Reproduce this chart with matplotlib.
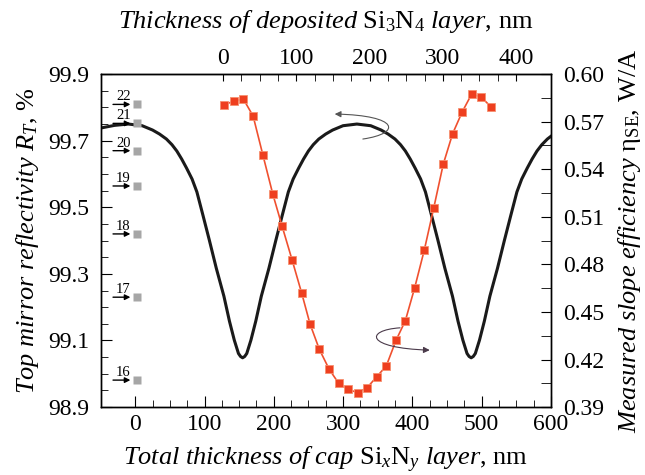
import matplotlib
matplotlib.use("Agg")
import matplotlib.pyplot as plt
from matplotlib.ticker import FixedLocator, MultipleLocator
from matplotlib.patches import FancyArrowPatch
from matplotlib.path import Path

plt.rcParams["font.family"] = ["Liberation Serif", "DejaVu Serif"]
plt.rcParams["mathtext.fontset"] = "custom"
plt.rcParams["mathtext.rm"] = "Liberation Serif"
plt.rcParams["mathtext.it"] = "Liberation Serif:italic"

# calculated top mirror reflectivity vs total cap thickness (nm, %)
thick_calc = [-50, -30, -10, 10, 25, 35, 45, 53, 60, 67, 74, 82, 89, 98, 107, 117,
              128, 136, 143, 149, 152, 155,
              158, 161, 167, 174, 182, 193, 203, 212, 221, 228, 236, 243, 250, 257,
              265, 275, 285, 300, 320,
              340, 355, 365, 375, 383, 390, 397, 404, 412, 419, 428, 437, 447, 458,
              466, 473, 479, 482, 485,
              488, 491, 497, 504, 512, 523, 533, 542, 551, 558, 566, 573, 580, 587,
              595, 600]
refl_calc = [99.738, 99.746, 99.750, 99.745, 99.732, 99.720, 99.705, 99.688, 99.669,
             99.645, 99.618, 99.585, 99.546, 99.474, 99.401, 99.317, 99.233, 99.158,
             99.101, 99.061, 99.052, 99.048,
             99.052, 99.061, 99.101, 99.158, 99.233, 99.317, 99.401, 99.474, 99.546,
             99.585, 99.618, 99.645, 99.669, 99.688, 99.705, 99.720, 99.732, 99.745,
             99.750,
             99.745, 99.732, 99.720, 99.705, 99.688, 99.669, 99.645, 99.618, 99.585,
             99.546, 99.474, 99.401, 99.317, 99.233, 99.158, 99.101, 99.061, 99.052,
             99.048,
             99.052, 99.061, 99.101, 99.158, 99.233, 99.317, 99.401, 99.474, 99.546,
             99.585, 99.618, 99.645, 99.669, 99.688, 99.705, 99.713]

# measured slope efficiency vs total cap thickness (nm, W/A)
thick_meas = [128.8, 142.8, 156.2, 170.2, 184.2, 198.6, 212.0, 226.5, 240.4, 252.4,
              265.8, 279.8, 293.8, 307.7, 321.2, 334.7, 348.6, 362.5, 376.5, 389.9,
              403.4, 417.3, 430.8, 444.7, 458.2, 472.1, 485.7, 499.5, 513.5]
slope_meas = [0.5805, 0.5832, 0.5842, 0.5735, 0.5491, 0.5243, 0.5041, 0.4827, 0.4617,
              0.4423, 0.4264, 0.4140, 0.4049, 0.4012, 0.3990, 0.4022, 0.4091, 0.4160,
              0.4321, 0.4444, 0.4652, 0.4890, 0.5153, 0.5432, 0.5624, 0.5762, 0.5874,
              0.5855, 0.5794]

# numbered structures (reflectivity at zero cap)
struct_ids = [16, 17, 18, 19, 20, 21, 22]
struct_refl = [98.981, 99.230, 99.420, 99.564, 99.670, 99.752, 99.809]
struct_x = 3


def total_to_dep(b):
    return 0.946 * b - 120.1


def dep_to_total(t):
    return (t + 120.1) / 0.946


FS = 17     # tick labels
LFS = 19    # axis labels
fig = plt.figure(figsize=(6.45, 4.75), dpi=100)
ax = fig.add_axes([0.156, 0.143, 0.698, 0.701])

ax.plot(thick_calc, refl_calc, color="#1a1a1a", lw=2.2, zorder=3,
        solid_joinstyle="round")
ax.plot([struct_x] * len(struct_refl), struct_refl, "s", color="#a6a6a6",
        ms=5.5, mec="none", zorder=4)
for n, r in zip(struct_ids, struct_refl):
    ax.annotate("", xy=(struct_x, r), xytext=(-17.5, 0), textcoords="offset points",
                arrowprops=dict(arrowstyle="-|>", color="black", lw=1.0,
                                mutation_scale=8, shrinkA=0, shrinkB=5))
    ax.annotate(str(n), xy=(struct_x, r), xytext=(-10, 3), textcoords="offset points",
                ha="center", va="baseline", fontsize=10.5)

ax.set_xlim(-50, 600)
ax.set_ylim(98.9, 99.9)
ax.set_xticks(range(0, 601, 100))
ax.xaxis.set_minor_locator(FixedLocator(list(range(0, 601, 25))))
ax.set_yticks([98.9, 99.1, 99.3, 99.5, 99.7, 99.9])
ax.yaxis.set_minor_locator(MultipleLocator(0.05))
ax.tick_params(which="both", direction="in", top=False, right=False, labelsize=FS)
ax.tick_params(axis="x", which="major", length=8, pad=5)
ax.tick_params(axis="x", which="minor", length=5)
ax.tick_params(axis="y", which="major", length=8, pad=8)
ax.tick_params(axis="y", which="minor", length=5)
ax.set_xlabel(r"$\mathit{Total\ thickness\ of\ cap}$ Si$_{\mathit{x}}$N$_{\mathit{y}}$ $\mathit{layer}$, nm",
              fontsize=LFS, labelpad=7)
ax.set_ylabel(r"$\mathit{Top\ mirror\ reflectivity\ R_T}$, %", fontsize=LFS, labelpad=5)

ax2 = ax.twinx()
ax2.plot(thick_meas, slope_meas, "-s", color="#f0502f", lw=1.2, ms=6.3,
         mfc="#ee3f1f", mec="#f79070", mew=0.6, zorder=3)
ax2.set_ylim(0.39, 0.60)
ax2.set_yticks([0.39, 0.42, 0.45, 0.48, 0.51, 0.54, 0.57, 0.60])
ax2.yaxis.set_minor_locator(MultipleLocator(0.015))
ax2.tick_params(which="both", direction="in", length=7, labelsize=FS, pad=9)
ax2.set_ylabel(r"$\mathit{Measured\ slope\ efficiency}$ η$_{\mathrm{SE}}$, W/A",
               fontsize=LFS, labelpad=8)

top = ax.secondary_xaxis("top", functions=(total_to_dep, dep_to_total))
top.set_xticks(range(0, 401, 100))
top.xaxis.set_minor_locator(FixedLocator(list(range(0, 401, 25))))
top.tick_params(which="both", direction="in", length=5, labelsize=FS, pad=4)
top.set_xlabel(r"$\mathit{Thickness\ of\ deposited}$ Si$_3$N$_4$ $\mathit{layer}$, nm",
               fontsize=LFS, labelpad=14)

for a in (ax, ax2):
    for s in a.spines.values():
        s.set_linewidth(1.0)

# curved arrows pointing to the relevant axis (axes-fraction coords)
upper = Path([(0.5825, 0.805), (0.669, 0.822), (0.664, 0.876), (0.520, 0.880)],
             [Path.MOVETO, Path.CURVE4, Path.CURVE4, Path.CURVE4])
ax2.add_patch(FancyArrowPatch(path=upper, transform=ax.transAxes, arrowstyle="-|>",
                              mutation_scale=9, color="#555555", lw=0.8, zorder=5))
lower = Path([(0.665, 0.238), (0.587, 0.231), (0.587, 0.177), (0.731, 0.171)],
             [Path.MOVETO, Path.CURVE4, Path.CURVE4, Path.CURVE4])
ax2.add_patch(FancyArrowPatch(path=lower, transform=ax.transAxes, arrowstyle="-|>",
                              mutation_scale=9, color="#4a3a4a", lw=0.8, zorder=5))

fig.savefig("out.png", dpi=100)
